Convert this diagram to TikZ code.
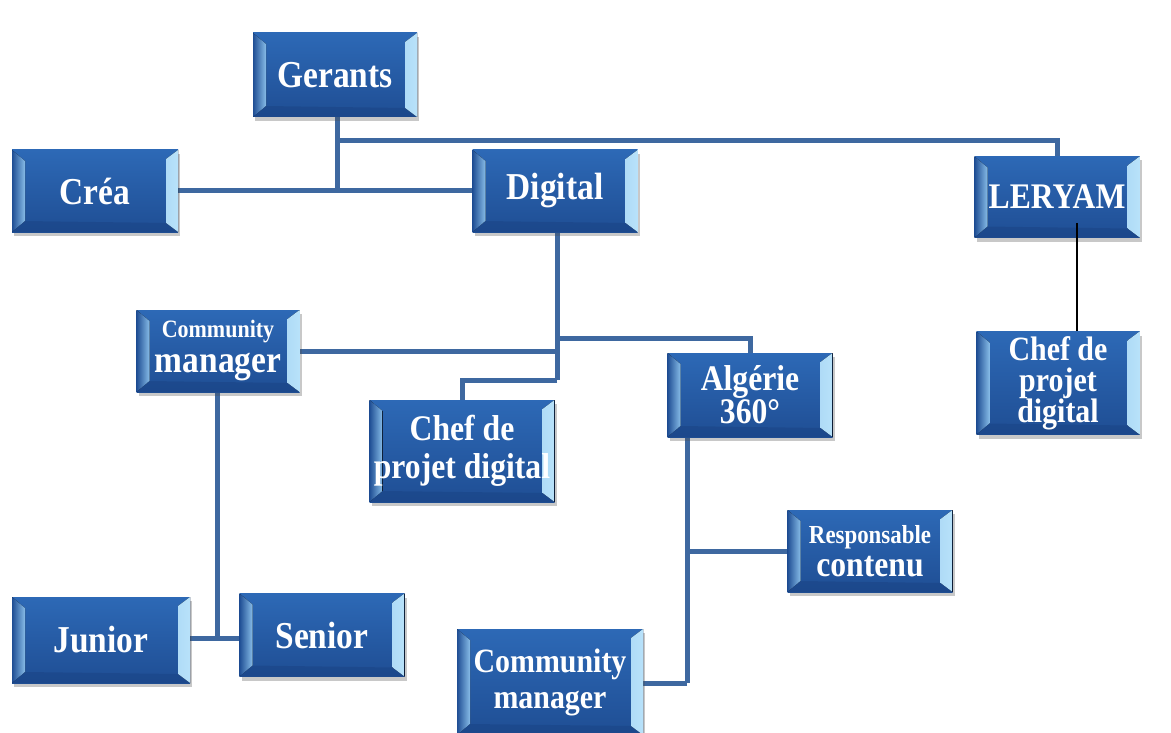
\documentclass[tikz,border=0pt]{standalone}
\usepackage{fontspec}
\setmainfont{Liberation Serif}[FakeStretch=0.88]
\usetikzlibrary{calc,shadows,backgrounds}
\definecolor{boxtop}{HTML}{2D69B6}
\definecolor{boxbot}{HTML}{1F4E94}
\definecolor{bvlight}{HTML}{B8E2FA}
\definecolor{bvmid}{HTML}{3F84CC}
\definecolor{bvdark}{HTML}{1A4384}
\definecolor{linkcol}{HTML}{3E68A0}
\newcommand\fsz[2]{\fontsize{#1}{#2}\selectfont}
\tikzset{
  obox/.style={rectangle, inner sep=0pt, text=white, align=center,
    top color=boxtop, bottom color=boxbot,
    drop shadow={shadow xshift=2pt, shadow yshift=-4pt, opacity=0.3, fill=black!70},
    path picture={
      \fill[left color=bvmid, right color=bvlight]
        (path picture bounding box.north east) -- (path picture bounding box.south east)
        -- ($(path picture bounding box.south east)+(-12pt,9pt)$)
        -- ($(path picture bounding box.north east)+(-12pt,-9pt)$) -- cycle;
      \fill[left color=boxbot, right color=bvlight!60!bvmid]
        (path picture bounding box.north west) -- (path picture bounding box.south west)
        -- ($(path picture bounding box.south west)+(13pt,11pt)$)
        -- ($(path picture bounding box.north west)+(13pt,-11pt)$) -- cycle;
      \fill[bvdark, opacity=0.5]
        (path picture bounding box.south west) -- (path picture bounding box.south east)
        -- ($(path picture bounding box.south east)+(-12pt,9pt)$)
        -- ($(path picture bounding box.south west)+(13pt,11pt)$) -- cycle;
    }},
  link/.style={draw=linkcol, line width=5pt},
  thinlink/.style={draw=black, line width=2pt}
}
\begin{document}
\begin{tikzpicture}[x=1pt,y=-1pt]
\useasboundingbox (0,0) rectangle (1171,733);
% nodes
\node[obox, minimum width=164pt, minimum height=84pt, font=\bfseries\fsz{38}{40}] (ger) at (335,75) {Gerants};
\node[obox, minimum width=166pt, minimum height=82pt, font=\bfseries\fsz{38}{40}] (crea) at (95,191) {Créa};
\node[obox, minimum width=165pt, minimum height=82pt, font=\bfseries\fsz{38}{40}] (dig) at (555,191) {Digital};
\node[obox, minimum width=165pt, minimum height=81pt, font=\bfseries\fsz{36}{40}] (ler) at (1057,197) {LERYAM};
\node[obox, minimum width=163pt, minimum height=82pt, font=\bfseries\fsz{38}{35}] (cm1) at (218,351) {{\fsz{25}{30}Community}\\manager};
\node[obox, minimum width=185pt, minimum height=102pt, font=\bfseries\fsz{36}{38}] (chef1) at (462,451) {Chef de\\projet digital};
\node[obox, minimum width=165pt, minimum height=84pt, font=\bfseries\fsz{36}{31}] (alg) at (750,395) {Algérie\\360°};
\node[obox, minimum width=163pt, minimum height=103pt, font=\bfseries\fsz{34}{31}] (chef2) at (1058,383) {Chef de\\projet\\digital};
\node[obox, minimum width=165pt, minimum height=82pt, font=\bfseries\fsz{36}{33}] (resp) at (870,551) {{\fsz{26}{30}Responsable}\\contenu};
\node[obox, minimum width=178pt, minimum height=86pt, font=\bfseries\fsz{38}{40}] (jun) at (101,640) {Junior};
\node[obox, minimum width=165pt, minimum height=83pt, font=\bfseries\fsz{38}{40}] (sen) at (322,635) {Senior};
\node[obox, minimum width=186pt, minimum height=106pt, font=\bfseries\fsz{34}{36}] (cm2) at (550,682) {Community\\manager};
% junction coordinates
\coordinate (jg) at (337,190);
\coordinate (jt) at (337,141);
\coordinate (jd) at (557,380);
\coordinate (ja) at (557,338);
\coordinate (jc) at (217,638);
\coordinate (jl) at (687,683);
\coordinate (jr) at (687,551);
\coordinate (lt) at (1077,223);
\begin{scope}[on background layer]
\fill[white] (0,0) rectangle (1171,733);
\draw[link] (ger.south -| jg) -- (jg);
\draw[link] (crea.east) -- (dig.west);
\draw[link] (jt) -| (ler.north);
\draw[link] (dig.south -| jd) -- (jd);
\draw[link] (ja) -| (alg.north);
\draw[link] (cm1.east) -- (cm1.east -| jd);
\draw[link] (jd) -| (chef1.north);
\draw[link] (cm1.south -| jc) -- (jc);
\draw[link] (jun.east |- jc) -- (sen.west |- jc);
\draw[link] (alg.south -| jl) -- (jl);
\draw[link] (jr) -- (resp.west);
\draw[link] (jl) -- (cm2.east |- jl);
\end{scope}
\draw[thinlink] (lt) -- (lt |- chef2.north);
\end{tikzpicture}
\end{document}
